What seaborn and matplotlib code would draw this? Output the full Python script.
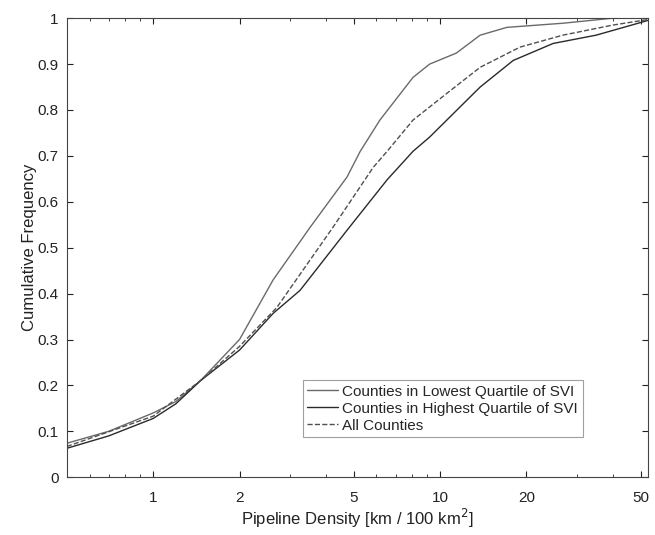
import matplotlib
matplotlib.use("Agg")
import matplotlib.pyplot as plt
import matplotlib.ticker as mticker
import seaborn as sns
import pandas as pd

# Data (x: pipeline density, y: cumulative frequency)
low_x = [0.5, 0.7, 1.0, 1.2, 1.46, 2.0, 2.62, 3.53, 4.74, 5.27, 6.17, 8.05, 9.2, 11.4, 13.8, 17.1, 26.8, 40, 53]
low_y = [0.074, 0.10, 0.14, 0.165, 0.21, 0.30, 0.43, 0.545, 0.654, 0.71, 0.778, 0.871, 0.90, 0.924, 0.963, 0.98, 0.989, 1.0, 1.0]

high_x = [0.5, 0.7, 1.0, 1.2, 1.46, 2.0, 2.62, 3.25, 4.74, 6.54, 8.05, 9.2, 13.8, 18, 24.8, 35, 53]
high_y = [0.063, 0.09, 0.128, 0.16, 0.21, 0.277, 0.357, 0.407, 0.538, 0.648, 0.71, 0.741, 0.85, 0.908, 0.945, 0.963, 0.995]

all_x = [0.5, 1.0, 1.46, 2.0, 2.7, 4.24, 5.85, 6.54, 8.05, 10.6, 13.8, 19, 26.8, 40, 53]
all_y = [0.067, 0.133, 0.21, 0.285, 0.37, 0.545, 0.675, 0.71, 0.778, 0.837, 0.893, 0.937, 0.963, 0.985, 0.997]

labels = ["Counties in Lowest Quartile of SVI",
          "Counties in Highest Quartile of SVI",
          "All Counties"]
x_ticks = [1, 2, 5, 10, 20, 50]
y_ticks = [0, 0.1, 0.2, 0.3, 0.4, 0.5, 0.6, 0.7, 0.8, 0.9, 1]

sns.set_style("ticks")
plt.rcParams['font.family'] = ['Liberation Sans', 'DejaVu Sans']

fig = plt.figure(figsize=(6.55, 5.35), dpi=100)
ax = fig.add_axes([0.102, 0.108, 0.887, 0.858])

series = [(low_x, low_y, labels[0], '#6a6a6a', '-'),
          (high_x, high_y, labels[1], '#2a2a2a', '-'),
          (all_x, all_y, labels[2], '#505050', '--')]
for xs, ys, lab, col, ls in series:
    df = pd.DataFrame({"x": xs, "y": ys})
    sns.lineplot(data=df, x="x", y="y", ax=ax, color=col, linestyle=ls,
                 linewidth=1.0, label=lab, sort=False, estimator=None)

ax.set_xscale('log')
ax.set_xlim(0.5, 53)
ax.set_ylim(0, 1)
ax.set_xticks(x_ticks)
ax.xaxis.set_major_formatter(mticker.FixedFormatter([str(t) for t in x_ticks]))
ax.xaxis.set_minor_formatter(mticker.NullFormatter())
ax.set_yticks(y_ticks)
ax.set_yticklabels([('%g' % t) for t in y_ticks])

ax.tick_params(which='both', direction='in', top=True, right=True,
               labelsize=11, colors='#222222', length=4)
ax.tick_params(which='minor', length=2.5)
ax.tick_params(axis='x', pad=10)
ax.tick_params(axis='y', pad=6)
for s in ax.spines.values():
    s.set_color('#444444')
    s.set_linewidth(0.8)

ax.set_xlabel("Pipeline Density [km / 100 km$^2$]", fontsize=12, color='#222222', labelpad=1)
ax.set_ylabel("Cumulative Frequency", fontsize=12, color='#222222', labelpad=0)

leg = ax.legend(loc='lower left', bbox_to_anchor=(0.406, 0.087), fontsize=11,
                frameon=True, fancybox=False, edgecolor='#888888',
                handlelength=2, handletextpad=0.3, borderpad=0.3,
                labelspacing=0.2, borderaxespad=0)
leg.get_frame().set_linewidth(0.8)

fig.savefig("out.png", dpi=100)
